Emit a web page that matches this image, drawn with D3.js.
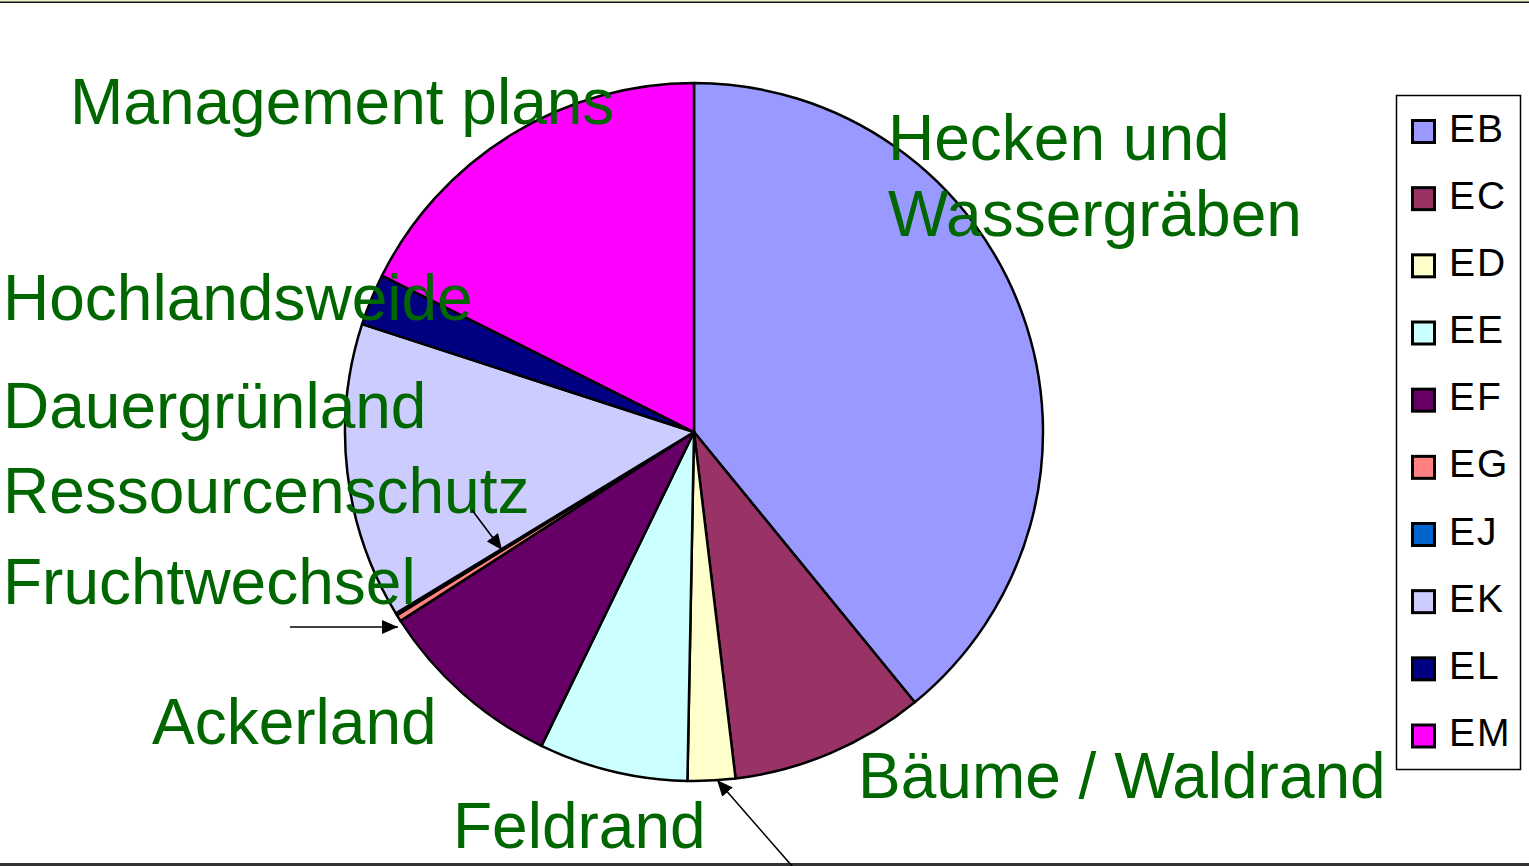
<!DOCTYPE html>
<html><head><meta charset="utf-8">
<script src="https://cdn.jsdelivr.net/npm/d3@7"></script>
<style>html,body{margin:0;padding:0;background:#fff;overflow:hidden}</style>
</head><body>
<svg id="c" width="1529" height="866"></svg>
<script>
const categories = ["EB","EC","ED","EE","EF","EG","EJ","EK","EL","EM"];
const values = [39.1, 9.0, 2.2, 6.9, 8.7, 0.3, 0.1, 13.7, 2.4, 17.6];
const colors = ["#9999FF","#993366","#FFFFCC","#CCFFFF","#660066","#FF8080","#0066CC","#CCCCFF","#000080","#FF00FF"];
const labels = ["Management plans","Hecken und","Wassergräben","Hochlandsweide","Dauergrünland","Ressourcenschutz","Fruchtwechsel","Ackerland","Feldrand","Bäume / Waldrand"];

const svg = d3.select("#c");
const W = 1529, H = 866;
// frame lines
svg.append("rect").attr("x",0).attr("y",0).attr("width",W).attr("height",1.5).attr("fill","#e6f5c0");
svg.append("rect").attr("x",0).attr("y",1.5).attr("width",W).attr("height",1.5).attr("fill","#111");
svg.append("rect").attr("x",0).attr("y",863).attr("width",W).attr("height",3).attr("fill","#333");

const cx = 694, cy = 432, R = 349;
const pie = d3.pie().sort(null).value(d=>d.v).startAngle(0).endAngle(2*Math.PI);
const arc = d3.arc().innerRadius(0).outerRadius(R);
const data = categories.map((c,i)=>({c, v:values[i], col:colors[i]}));
const g = svg.append("g").attr("transform",`translate(${cx},${cy})`);
g.selectAll("path").data(pie(data)).join("path")
  .attr("d",arc).attr("fill",d=>d.data.col)
  .attr("stroke","#000").attr("stroke-width",2.5).attr("stroke-linejoin","round");

// labels
const green = "#006600";
const font = "Liberation Sans, Arial, sans-serif";
const lab = [
  [labels[0],70,124],[labels[1],888,160],[labels[2],888,236],[labels[3],3,320],
  [labels[4],3,428],[labels[5],3,513],[labels[6],3,604],[labels[7],152,744],
  [labels[8],453,848],[labels[9],858,798]
];
svg.append("g").selectAll("text").data(lab).join("text")
  .attr("x",d=>d[1]).attr("y",d=>d[2]).text(d=>d[0])
  .attr("fill",green).attr("font-family",font).attr("font-size",64);

// arrows
const defs = svg.append("defs");
defs.append("marker").attr("id","ah").attr("viewBox","0 0 16 14").attr("refX",16).attr("refY",7)
  .attr("markerWidth",16).attr("markerHeight",14).attr("markerUnits","userSpaceOnUse").attr("orient","auto")
  .append("path").attr("d","M0,0L16,7L0,14z").attr("fill","#000");
const arrows = [[472,510,502,550],[290,627,398,627],[792,866,717,780]];
svg.append("g").selectAll("line").data(arrows).join("line")
  .attr("x1",d=>d[0]).attr("y1",d=>d[1]).attr("x2",d=>d[2]).attr("y2",d=>d[3])
  .attr("stroke","#000").attr("stroke-width",1.6).attr("marker-end","url(#ah)");

// legend
const lg = svg.append("g");
lg.append("rect").attr("x",1396.5).attr("y",95.5).attr("width",124).attr("height",674)
  .attr("fill","#fff").attr("stroke","#000").attr("stroke-width",1.5);
const ly = d3.scalePoint().domain(categories).range([131.5,736]);
const items = lg.selectAll("g").data(data).join("g").attr("transform",d=>`translate(0,${ly(d.c)})`);
items.append("rect").attr("x",1412.5).attr("y",-11).attr("width",22).attr("height",22)
  .attr("fill",d=>d.col).attr("stroke","#000").attr("stroke-width",3);
items.append("text").attr("x",1449).attr("y",10).text(d=>d.c)
  .attr("font-family",font).attr("font-size",39).attr("letter-spacing",2).attr("fill","#000");
</script>
</body></html>
